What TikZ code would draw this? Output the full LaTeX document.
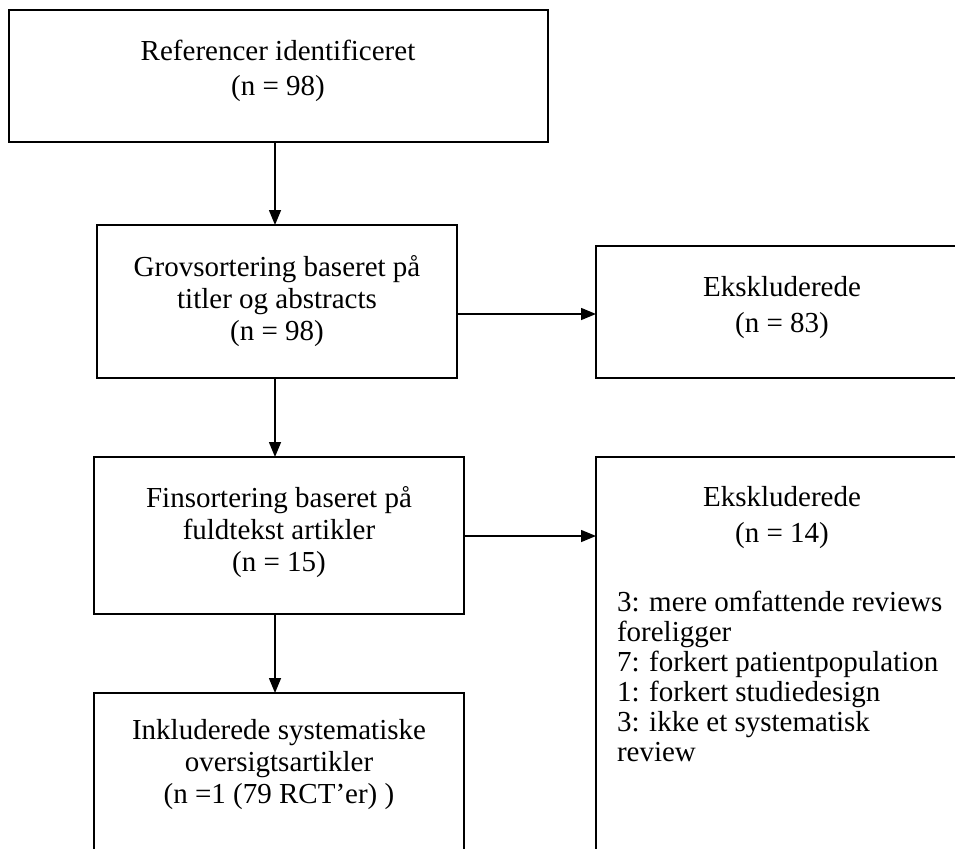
\documentclass[tikz,border=0pt]{standalone}
\usepackage{fontspec}
\setmainfont{Liberation Serif}
\usetikzlibrary{arrows.meta}
\begin{document}
\begin{tikzpicture}[x=1pt,y=-1pt,
  box/.style={draw=black, line width=1.8pt, rectangle, inner sep=0pt, outer sep=0pt, anchor=north west},
  txt/.style={inner sep=0pt, outer sep=0pt, align=center, anchor=north},
  arr/.style={draw=black, line width=1.5pt, -{Triangle[length=15pt,width=12pt]}}]
\useasboundingbox (0,0) rectangle (955,848);
\clip (0,0) rectangle (955,848);
\fill[white] (0,0) rectangle (955,848);
% boxes
\node[box, minimum width=539pt, minimum height=132pt] (b1) at (9,10) {};
\node[box, minimum width=360pt, minimum height=153pt] (b2) at (97,225) {};
\node[box, minimum width=372pt, minimum height=132pt] (b3) at (596,246) {};
\node[box, minimum width=370pt, minimum height=157pt] (b4) at (94,457) {};
\node[box, minimum width=370pt, minimum height=190pt] (b5) at (94,693) {};
\node[box, minimum width=372pt, minimum height=430pt] (b6) at (596,457) {};
% texts
\node[txt, font=\fontsize{29}{35}\selectfont] (t1) at (278,36.5) {\strut Referencer identificeret\\(n = 98)};
\node[txt, font=\fontsize{29}{32}\selectfont] (t2) at (277,253.6) {\strut Grovsortering baseret på\\titler og abstracts\\(n = 98)};
\node[txt, font=\fontsize{29}{36}\selectfont] (t3) at (782,270.8) {\strut Ekskluderede\\(n = 83)};
\node[txt, font=\fontsize{29}{32}\selectfont] (t4) at (279,484.6) {\strut Finsortering baseret på\\fuldtekst artikler\\(n = 15)};
\node[txt, font=\fontsize{29}{32}\selectfont] (t5) at (279,716.6) {\strut Inkluderede systematiske\\oversigtsartikler\\(n =1 (79 RCT’er) )};
\node[txt, font=\fontsize{29}{36}\selectfont] (t6) at (782,480.8) {\strut Ekskluderede\\(n = 14)};
\node[inner sep=0pt, outer sep=0pt, align=left, anchor=north west, font=\fontsize{29}{30}\selectfont] (t7) at (617,590) {\strut 3: mere omfattende reviews\\foreligger\\7: forkert patientpopulation\\1: forkert studiedesign\\3: ikke et systematisk\\review};
% connectors
\coordinate (ax) at (275,0);
\coordinate (h1) at (0,314);
\coordinate (h2) at (0,536);
\draw[arr] (b1.south -| ax) -- (b2.north -| ax);
\draw[arr] (b2.south -| ax) -- (b4.north -| ax);
\draw[arr] (b4.south -| ax) -- (b5.north -| ax);
\draw[arr] (b2.east |- h1) -- (b3.west |- h1);
\draw[arr] (b4.east |- h2) -- (b6.west |- h2);
\end{tikzpicture}
\end{document}
